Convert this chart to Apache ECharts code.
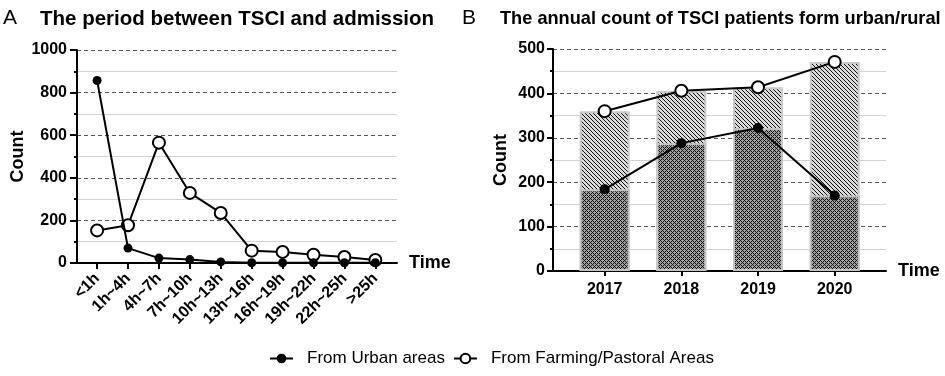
<!DOCTYPE html>
<html>
<head>
<meta charset="utf-8">
<script src="https://cdn.jsdelivr.net/npm/echarts@6/dist/echarts.min.js"></script>
<style>
  html, body { margin: 0; padding: 0; background: #fff; }
  #main { width: 945px; height: 376px; }
</style>
</head>
<body>
<div id="main"></div>
<script>
// panel A data
var periods = ['<1h', '1h~4h', '4h~7h', '7h~10h', '10h~13h', '13h~16h', '16h~19h', '19h~22h', '22h~25h', '>25h'];
var periodUrban = [857, 70, 23, 16, 5, 1, 1, 1, 1, 1];
var periodFarming = [153, 177, 565, 329, 235, 58, 52, 39, 28, 14];

// panel B data
var years = ['2017', '2018', '2019', '2020'];
var yearUrban = [184, 288, 322, 170];
var yearFarming = [360, 406, 414, 471];

var FONT = 'Liberation Sans, Arial, sans-serif';

// simple hatch patterns for the bars
function hatch(bg, cross) {
    var c = document.createElement('canvas');
    c.width = 8; c.height = 8;
    var ctx = c.getContext('2d');
    ctx.fillStyle = bg;
    ctx.fillRect(0, 0, 8, 8);
    for (var y = 0; y < 8; y++) {
        for (var x = 0; x < 8; x++) {
            var d1 = ((x - y) % 4 + 4) % 4;
            var d2 = (x + y) % 4;
            if (d1 == 0 || (cross && d2 == 0)) {
                ctx.fillStyle = '#111';
                ctx.fillRect(x, y, 1, 1);
            }
        }
    }
    return c;
}

function toPoints(vals) {
    return vals.map(function (v, i) { return [i, v]; });
}

var chart = echarts.init(document.getElementById('main'), null, {renderer: 'canvas'});

var nameStyle = {color: '#000', fontFamily: FONT, fontWeight: 'bold', fontSize: 18};

function yAxisCfg(gridIndex, max, interval, gap, tickLen, margin) {
    return {
        type: 'value', gridIndex: gridIndex, min: 0, max: max, interval: interval,
        name: 'Count', nameLocation: 'middle', nameRotate: 90, nameGap: gap,
        nameTextStyle: nameStyle,
        axisLine: {show: true, onZero: false, lineStyle: {color: '#000', width: 2}},
        axisTick: {show: true, length: tickLen, lineStyle: {color: '#000', width: 2}},
        minorTick: {show: true, splitNumber: 2, length: 3, lineStyle: {color: '#000', width: 2}},
        axisLabel: {
            margin: margin, color: '#000', fontFamily: FONT, fontWeight: 'bold', fontSize: 16,
            formatter: function (v) { return String(v); }
        },
        splitLine: {show: true, lineStyle: {color: '#555', type: [4, 3], width: 1}},
        minorSplitLine: {show: true, lineStyle: {color: '#d2d2d2', width: 1}}
    };
}

var option = {
    animation: false,
    backgroundColor: '#fff',
    title: [
        {text: 'A', left: -2, top: 3, textStyle: {fontFamily: FONT, fontWeight: 'normal', fontSize: 21, color: '#000'}},
        {text: 'The period between TSCI and admission', left: 35, top: 4, textStyle: {fontFamily: FONT, fontWeight: 'bold', fontSize: 20.5, color: '#000'}},
        {text: 'B', left: 457, top: 3, textStyle: {fontFamily: FONT, fontWeight: 'normal', fontSize: 21, color: '#000'}},
        {text: 'The annual count of TSCI patients form urban/rural', left: 495, top: 5, textStyle: {fontFamily: FONT, fontWeight: 'bold', fontSize: 18.2, color: '#000'}}
    ],
    legend: {
        bottom: 4, left: 264,
        data: ['From Urban areas', 'From Farming/Pastoral Areas'],
        itemWidth: 23, itemHeight: 12, itemGap: 8,
        textStyle: {fontFamily: FONT, fontSize: 17, color: '#000', padding: [0, 0, 0, 9]}
    },
    grid: [
        {left: 77, top: 50, width: 320, height: 213, containLabel: false},
        {left: 553, top: 49, width: 333, height: 222, containLabel: false}
    ],
    xAxis: [
        {
            type: 'value', gridIndex: 0, min: -0.65, max: 9.7,
            name: 'Time', nameLocation: 'end', nameGap: 12, nameTextStyle: nameStyle,
            axisLine: {show: true, onZero: false, lineStyle: {color: '#000', width: 2}},
            axisTick: {show: true, customValues: [0, 1, 2, 3, 4, 5, 6, 7, 8, 9], length: 6, lineStyle: {color: '#000', width: 2}},
            axisLabel: {
                customValues: [0, 1, 2, 3, 4, 5, 6, 7, 8, 9], rotate: 45, margin: 13,
                color: '#000', fontFamily: FONT, fontWeight: 'bold', fontSize: 16,
                formatter: function (v) { return periods[Math.round(v)]; }
            },
            splitLine: {show: false}
        },
        {
            type: 'value', gridIndex: 1, min: -0.674, max: 3.669,
            name: 'Time', nameLocation: 'end', nameGap: 12, nameTextStyle: nameStyle,
            axisLine: {show: true, onZero: false, lineStyle: {color: '#000', width: 2}},
            axisTick: {show: true, customValues: [0, 1, 2, 3], length: 5, lineStyle: {color: '#000', width: 2}},
            axisLabel: {
                customValues: [0, 1, 2, 3], margin: 11,
                color: '#000', fontFamily: FONT, fontWeight: 'bold', fontSize: 16,
                formatter: function (v) { return years[Math.round(v)]; }
            },
            splitLine: {show: false}
        }
    ],
    yAxis: [
        yAxisCfg(0, 1000, 200, 50, 7, 10),
        yAxisCfg(1, 500, 100, 43, 6, 8)
    ],
    series: [
        {
            name: 'From Urban areas', type: 'line', xAxisIndex: 0, yAxisIndex: 0,
            data: toPoints(periodUrban), symbol: 'circle', symbolSize: 9,
            itemStyle: {color: '#000'}, lineStyle: {color: '#000', width: 2}, z: 5
        },
        {
            name: 'From Farming/Pastoral Areas', type: 'line', xAxisIndex: 0, yAxisIndex: 0,
            data: toPoints(periodFarming), symbol: 'circle', symbolSize: 12,
            itemStyle: {color: '#fff', borderColor: '#000', borderWidth: 2}, lineStyle: {color: '#000', width: 2}, z: 4
        },
        {
            name: 'farming bar', type: 'bar', xAxisIndex: 1, yAxisIndex: 1,
            data: toPoints(yearFarming), barWidth: 50, barGap: '-100%',
            itemStyle: {color: {image: hatch('#dadada', false), repeat: 'repeat'}, borderColor: '#cacaca', borderWidth: 2}
        },
        {
            name: 'urban bar', type: 'bar', xAxisIndex: 1, yAxisIndex: 1,
            data: toPoints(yearUrban), barWidth: 50, barGap: '-100%',
            itemStyle: {color: {image: hatch('#a0a0a0', true), repeat: 'repeat'}, borderColor: '#c4c4c4', borderWidth: 2}
        },
        {
            name: 'From Urban areas', type: 'line', xAxisIndex: 1, yAxisIndex: 1,
            data: toPoints(yearUrban), symbol: 'circle', symbolSize: 10,
            itemStyle: {color: '#000'}, lineStyle: {color: '#000', width: 2}, z: 5
        },
        {
            name: 'From Farming/Pastoral Areas', type: 'line', xAxisIndex: 1, yAxisIndex: 1,
            data: toPoints(yearFarming), symbol: 'circle', symbolSize: 12,
            itemStyle: {color: '#fff', borderColor: '#000', borderWidth: 2}, lineStyle: {color: '#000', width: 2}, z: 5
        }
    ]
};

chart.setOption(option);
</script>
</body>
</html>
